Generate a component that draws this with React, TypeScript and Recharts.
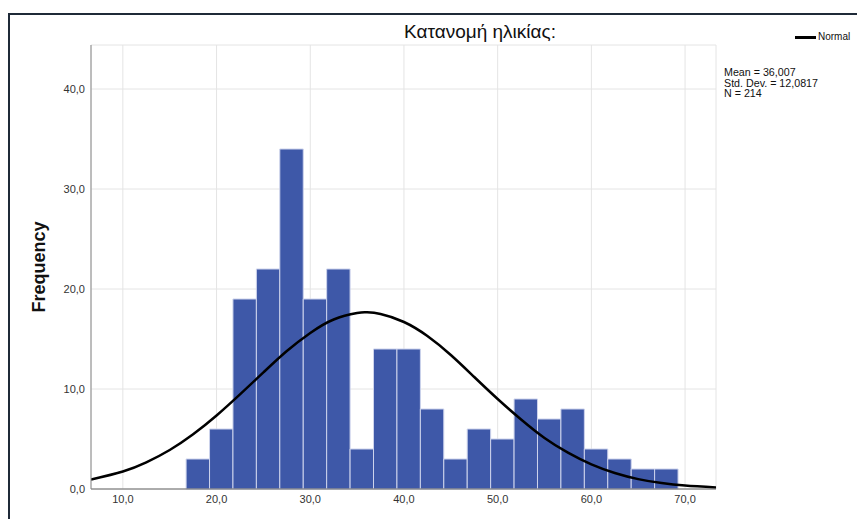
import {
  ComposedChart,
  Line,
  XAxis,
  YAxis,
  CartesianGrid,
  ReferenceArea,
} from "recharts";

// histogram bins (lower edge, width 2.5) and counts
const binStarts = [
  16.75, 19.25, 21.75, 24.25, 26.75, 29.25, 31.75, 34.25, 36.75, 39.25, 41.75,
  44.25, 46.75, 49.25, 51.75, 54.25, 56.75, 59.25, 61.75, 64.25, 66.75,
];
const binCounts = [
  3, 6, 19, 22, 34, 19, 22, 4, 14, 14, 8, 3, 6, 5, 9, 7, 8, 4, 3, 2, 2,
];
const binWidth = 2.5;

// normal curve
const curveX = [
  6.6, 10, 12.5, 15, 17.5, 20, 22.5, 25, 27.5, 30, 32.5, 35, 36, 37.5, 40,
  42.5, 45, 47.5, 50, 52.5, 55, 57.5, 60, 62.5, 65, 67.5, 70, 73.3,
];
const curveY = [
  0.95, 1.75, 2.66, 3.9, 5.47, 7.35, 9.46, 11.66, 13.8, 15.6, 16.95, 17.6,
  17.67, 17.5, 16.7, 15.3, 13.4, 11.2, 9.0, 6.95, 5.1, 3.63, 2.46, 1.6, 0.99,
  0.59, 0.34, 0.15,
];

const xTicks = [10, 20, 30, 40, 50, 60, 70];
const yTicks = [0, 10, 20, 30, 40];
const statsLines = ["Mean = 36,007", "Std. Dev. = 12,0817", "N = 214"];

const curveData = curveX.map((x, i) => ({ x, y: curveY[i] }));
const fmt = (v: number) => v.toFixed(1).replace(".", ",");
const font = "'Liberation Sans', Arial, sans-serif";

export default function App() {
  return (
    <div
      style={{
        position: "absolute",
        left: 0,
        top: 0,
        width: 857,
        height: 519,
        background: "#fff",
        fontFamily: font,
        overflow: "hidden",
      }}
    >
      <div
        style={{
          position: "absolute",
          left: 8,
          top: 13,
          width: 900,
          height: 520,
          borderTop: "2px solid #1f2a38",
          borderLeft: "2px solid #1f2a38",
        }}
      />
      <ComposedChart
        width={857}
        height={519}
        data={curveData}
        margin={{ top: 45, right: 141, bottom: 0, left: 0 }}
        style={{ position: "absolute", left: 0, top: 0 }}
      >
        <CartesianGrid stroke="#e4e4e4" />
        <XAxis
          dataKey="x"
          type="number"
          domain={[6.6, 73.3]}
          ticks={xTicks}
          allowDataOverflow
          tickFormatter={fmt}
          height={30}
          tickLine={false}
          tickSize={4}
          stroke="#666"
          tick={{ fill: "#333", fontSize: 11, fontFamily: font }}
        />
        <YAxis
          type="number"
          domain={[0, 44.4]}
          ticks={yTicks}
          allowDataOverflow
          tickFormatter={fmt}
          width={91}
          tickLine={false}
          tickSize={4}
          stroke="#888"
          tick={{ fill: "#333", fontSize: 11, fontFamily: font }}
          label={{
            value: "Frequency",
            angle: -90,
            position: "insideLeft",
            offset: 39,
            style: { fontSize: 18, fontWeight: "bold", fill: "#111", fontFamily: font, textAnchor: "middle" },
          }}
        />
        {binStarts.map((s, i) => (
          <ReferenceArea
            key={i}
            x1={s}
            x2={s + binWidth}
            y1={0}
            y2={binCounts[i]}
            fill="#3e58a8"
            fillOpacity={1}
            stroke="#cdd3ec"
            strokeWidth={1}
            ifOverflow="visible"
          />
        ))}
        <Line
          dataKey="y"
          type="natural"
          stroke="#000"
          strokeWidth={2.5}
          dot={false}
          isAnimationActive={false}
        />
      </ComposedChart>
      <div
        style={{
          position: "absolute",
          left: 330,
          width: 300,
          top: 21,
          textAlign: "center",
          fontSize: 19,
          lineHeight: "22px",
          color: "#111",
        }}
      >
        Κατανομή ηλικίας:
      </div>
      <div
        style={{
          position: "absolute",
          left: 795,
          top: 36,
          width: 21,
          height: 3,
          background: "#000",
        }}
      />
      <div
        style={{
          position: "absolute",
          left: 818,
          top: 31,
          fontSize: 10,
          fontFamily: "'Liberation Sans Narrow', 'Liberation Sans', sans-serif",
          color: "#111",
        }}
      >
        Normal
      </div>
      <div
        style={{
          position: "absolute",
          left: 724,
          top: 67,
          fontSize: 10.7,
          lineHeight: "10.5px",
          color: "#111",
        }}
      >
        {statsLines.map((t) => (
          <div key={t}>{t}</div>
        ))}
      </div>
    </div>
  );
}
